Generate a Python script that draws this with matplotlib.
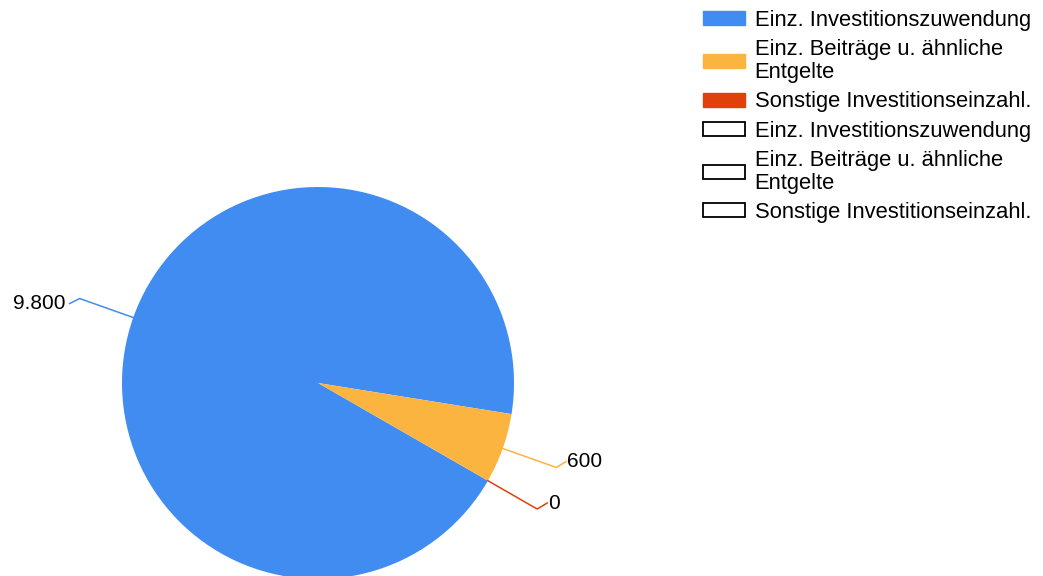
import numpy as np
import matplotlib.pyplot as plt
from matplotlib.patches import Patch

plt.rcParams['font.family'] = ['Liberation Sans', 'DejaVu Sans']

# Daten
kategorien = ["Einz. Investitionszuwendung",
              "Einz. Beiträge u. ähnliche\nEntgelte",
              "Sonstige Investitionseinzahl."]
werte = [9800, 600, 0]
wert_labels = ["9.800", "600", "0"]
farben = ["#418CF0", "#FCB441", "#E0400A"]

W, H = 1043, 576
fig = plt.figure(figsize=(W / 100, H / 100), dpi=100)
ax = fig.add_axes([0, 0, 1, 1])

cx, cy, r = 318, H - 383, 196
wedges, _ = ax.pie(werte, colors=farben, startangle=-29.9, counterclock=False,
                   center=(cx, cy), radius=r, frame=True,
                   wedgeprops=dict(linewidth=0))
ax.set_xlim(0, W)
ax.set_ylim(0, H)
ax.set_aspect('equal')
ax.axis('off')

# Beschriftungen mit Führungslinien
for w, lab, col in zip(wedges, wert_labels, farben):
    mid = np.deg2rad((w.theta1 + w.theta2) / 2)
    p0 = (cx + r * np.cos(mid), cy + r * np.sin(mid))
    p1 = (cx + 1.29 * r * np.cos(mid), cy + 1.29 * r * np.sin(mid))
    if np.cos(mid) >= 0:
        p2 = (p1[0] + 10, p1[1] + 6)
        ha = 'left'
        tx = p2[0] + 1
    else:
        p2 = (p1[0] - 10, p1[1] - 5)
        ha = 'right'
        tx = p2[0] - 4
    ax.plot([p0[0], p1[0], p2[0]], [p0[1], p1[1], p2[1]], color=col, lw=1.1)
    ax.text(tx, p2[1], lab, ha=ha, va='center', fontsize=15, color='black')

# Legende
handles = [Patch(facecolor=c, edgecolor=c, label=k) for c, k in zip(farben, kategorien)]
handles += [Patch(facecolor='white', edgecolor='black', linewidth=1.3, label=k) for k in kategorien]
leg = fig.legend(handles=handles, loc='upper left', bbox_to_anchor=(703 / W, 1 - 10 / H),
                 frameon=False, fontsize=15.8, handlelength=1.9, handleheight=0.6,
                 handletextpad=0.45, labelspacing=0.38, borderaxespad=0, borderpad=0)
for t in leg.get_texts():
    t.set_linespacing(1.1)

fig.savefig("out.png", dpi=100)
